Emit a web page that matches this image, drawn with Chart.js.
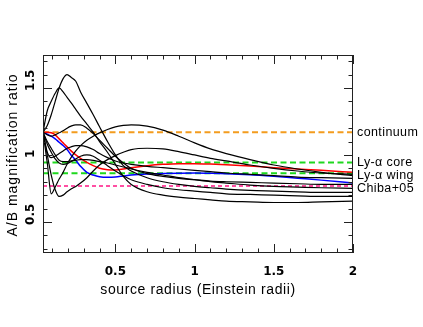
<!DOCTYPE html>
<html>
<head>
<meta charset="utf-8">
<script src="https://cdn.jsdelivr.net/npm/chart.js@4.4.1/dist/chart.umd.min.js"></script>
<style>
  html, body { margin: 0; padding: 0; background: #fff; }
  #wrap { width: 423px; height: 327px; }
</style>
</head>
<body>
<div id="wrap"><canvas id="magChart"></canvas></div>
<script>
// source radius grid (Einstein radii)
const radius = [0.043, 0.07, 0.095, 0.12, 0.145, 0.17, 0.195, 0.22, 0.25, 0.28, 0.32, 0.36, 0.4, 0.45,
                0.5, 0.55, 0.6, 0.7, 0.8, 0.9, 1.0, 1.1, 1.2, 1.35, 1.5, 1.65, 1.8, 2.0];

// black model curves
const model1 = [1.17, 1.22, 1.30, 1.40, 1.50, 1.57, 1.60, 1.58, 1.55, 1.47, 1.385, 1.30, 1.21, 1.10,
                1.00, 0.92, 0.88, 0.83, 0.80, 0.78, 0.765, 0.755, 0.745, 0.735, 0.73, 0.725, 0.72, 0.72];
const model2 = [1.17, 1.33, 1.40, 1.46, 1.50, 1.47, 1.43, 1.39, 1.34, 1.29, 1.23, 1.17, 1.10, 1.02,
                0.93, 0.84, 0.78, 0.725, 0.70, 0.685, 0.675, 0.665, 0.655, 0.65, 0.645, 0.645, 0.65, 0.655];
const model3 = [1.17, 1.15, 1.14, 1.15, 1.165, 1.18, 1.20, 1.215, 1.225, 1.225, 1.20, 1.16, 1.11, 1.05,
                0.99, 0.94, 0.90, 0.86, 0.84, 0.825, 0.815, 0.805, 0.80, 0.795, 0.79, 0.785, 0.78, 0.78];
const model4 = [1.17, 0.94, 0.71, 0.76, 0.82, 0.87, 0.93, 0.98, 1.03, 1.07, 1.11, 1.14, 1.165, 1.19,
                1.21, 1.22, 1.225, 1.215, 1.185, 1.14, 1.09, 1.045, 1.01, 0.965, 0.925, 0.895, 0.87, 0.845];
const model5 = [1.17, 1.00, 0.85, 0.74, 0.69, 0.70, 0.725, 0.745, 0.765, 0.79, 0.83, 0.88, 0.925, 0.965,
                0.995, 1.02, 1.04, 1.05, 1.045, 1.025, 1.00, 0.975, 0.955, 0.925, 0.90, 0.88, 0.865, 0.855];
const model6 = [1.17, 1.02, 0.98, 0.99, 1.01, 1.03, 1.05, 1.06, 1.07, 1.07, 1.06, 1.04, 1.01, 0.98,
                0.955, 0.94, 0.93, 0.915, 0.905, 0.895, 0.885, 0.875, 0.865, 0.855, 0.845, 0.835, 0.83, 0.825];
const model7 = [1.17, 1.10, 1.05, 1.00, 0.96, 0.95, 0.95, 0.955, 0.96, 0.965, 0.965, 0.96, 0.95, 0.94,
                0.925, 0.91, 0.895, 0.87, 0.85, 0.83, 0.815, 0.80, 0.79, 0.775, 0.765, 0.76, 0.755, 0.75];
const model8 = [1.17, 1.08, 1.02, 0.97, 0.94, 0.93, 0.935, 0.95, 0.97, 0.99, 1.00, 0.99, 0.96, 0.92,
                0.88, 0.845, 0.815, 0.78, 0.755, 0.74, 0.73, 0.72, 0.71, 0.705, 0.70, 0.695, 0.69, 0.69];

// red and blue model curves
const modelRed = [1.17, 1.17, 1.165, 1.15, 1.12, 1.09, 1.06, 1.03, 1.00, 0.975, 0.945, 0.92, 0.90, 0.89,
                  0.888, 0.895, 0.905, 0.92, 0.93, 0.935, 0.935, 0.932, 0.927, 0.917, 0.905, 0.895, 0.885, 0.87];
const modelBlue = [1.17, 1.155, 1.14, 1.12, 1.095, 1.07, 1.04, 1.00, 0.96, 0.915, 0.87, 0.85, 0.838, 0.834,
                   0.836, 0.843, 0.85, 0.858, 0.862, 0.864, 0.865, 0.863, 0.86, 0.852, 0.84, 0.826, 0.812, 0.79];

// observed ratios (horizontal dashed lines)
const obsNames = ['continuum', 'Ly-α core', 'Ly-α wing', 'Chiba+05'];
const obsValues = [1.17, 0.943, 0.863, 0.769];
const obsColors = ['#f39c1e', '#1ed81e', '#1ed81e', '#ff4fa3'];

const xTicks = [0.5, 1, 1.5, 2];
const xTickLabels = ['0.5', '1', '1.5', '2'];
const yTicks = [0.5, 1, 1.5];
const yTickLabels = ['0.5', '1', '1.5'];

const X_MIN = 0.043, X_MAX = 2.0, Y_MIN = 0.268, Y_MAX = 1.746;

function pts(ys){
    return ys.map((y, i) => ({x: radius[i], y: y}));
}

const blackCurves = [model1, model2, model3, model4, model5, model6, model7, model8];
const datasets = [];

blackCurves.forEach((ys) => {
    datasets.push({
        data: pts(ys),
        borderColor: '#000',
        borderWidth: 1.2,
        pointRadius: 0,
        cubicInterpolationMode: 'monotone'
    });
});

datasets.push({ data: pts(modelRed), borderColor: '#ff0000', borderWidth: 1.5, pointRadius: 0, cubicInterpolationMode: 'monotone' });
datasets.push({ data: pts(modelBlue), borderColor: '#0000ff', borderWidth: 1.5, pointRadius: 0, cubicInterpolationMode: 'monotone' });

obsValues.forEach((v, i) => {
    datasets.push({
        data: [{x: X_MIN, y: v}, {x: X_MAX, y: v}],
        borderColor: obsColors[i],
        borderWidth: 2,
        borderDash: i === 3 ? [4, 3] : [6, 3.5],
        pointRadius: 0
    });
});

// frame, inward ticks, tick labels, titles, right-side labels
const framePlugin = {
    id: 'frame',
    afterDraw(chart){
        const ctx = chart.ctx;
        const a = chart.chartArea;
        const xs = chart.scales.x;
        const ys = chart.scales.y;
        ctx.save();
        ctx.strokeStyle = '#222';
        ctx.lineWidth = 1;
        ctx.strokeRect(a.left + 0.5, a.top + 0.5, a.right - a.left - 1, a.bottom - a.top - 1);

        ctx.beginPath();
        for(let k = 1; k <= 20; k++){
            const v = k / 10;
            const px = Math.round(xs.getPixelForValue(v)) + 0.5;
            const len = (k % 5 === 0) ? 9 : 4.5;
            ctx.moveTo(px, a.bottom); ctx.lineTo(px, a.bottom - len);
            ctx.moveTo(px, a.top); ctx.lineTo(px, a.top + len);
        }
        for(let k = 3; k <= 17; k++){
            const v = k / 10;
            const py = Math.round(ys.getPixelForValue(v)) + 0.5;
            const len = (k % 5 === 0) ? 9 : 4.5;
            ctx.moveTo(a.left, py); ctx.lineTo(a.left + len, py);
            ctx.moveTo(a.right, py); ctx.lineTo(a.right - len, py);
        }
        ctx.stroke();

        ctx.fillStyle = '#000';
        ctx.font = 'bold 12px "DejaVu Sans"';
        ctx.textAlign = 'center';
        ctx.textBaseline = 'alphabetic';
        xTicks.forEach((v, i) => {
            ctx.fillText(xTickLabels[i], xs.getPixelForValue(v), a.bottom + 22);
        });
        yTicks.forEach((v, i) => {
            ctx.save();
            ctx.translate(a.left - 9, ys.getPixelForValue(v) + 3);
            ctx.rotate(-Math.PI / 2);
            ctx.textAlign = 'left';
            ctx.fillText(yTickLabels[i], 0, 0);
            ctx.restore();
        });

        ctx.font = '14px "Liberation Sans", Arial, sans-serif';
        ctx.textAlign = 'center';
        ctx.letterSpacing = '0.6px';
        ctx.fillText('source radius (Einstein radii)', (a.left + a.right) / 2, a.bottom + 41);
        ctx.save();
        ctx.letterSpacing = '1px';
        ctx.translate(17, (a.top + a.bottom) / 2 + 1);
        ctx.rotate(-Math.PI / 2);
        ctx.fillText('A/B magnification ratio', 0, 0);
        ctx.restore();

        ctx.font = '12.5px "Liberation Sans", Arial, sans-serif';
        ctx.letterSpacing = '0.4px';
        ctx.textAlign = 'left';
        ctx.textBaseline = 'middle';
        const nudge = [0, 0, 2, 3];
        obsNames.forEach((name, i) => {
            ctx.fillText(name, a.right + 4, ys.getPixelForValue(obsValues[i]) + nudge[i]);
        });
        ctx.restore();
    }
};

const config = {
    type: 'line',
    data: { datasets },
    options: {
        responsive: true,
        maintainAspectRatio: false,
        animation: false,
        layout: { padding: { left: 43, right: 70, top: 55, bottom: 74 } },
        plugins: { legend: { display: false }, tooltip: { enabled: false } },
        scales: {
            x: { type: 'linear', min: X_MIN, max: X_MAX, display: false },
            y: { type: 'linear', min: Y_MIN, max: Y_MAX, display: false }
        }
    },
    plugins: [framePlugin]
};

const myChart = new Chart(document.getElementById('magChart'), config);
</script>
</body>
</html>
